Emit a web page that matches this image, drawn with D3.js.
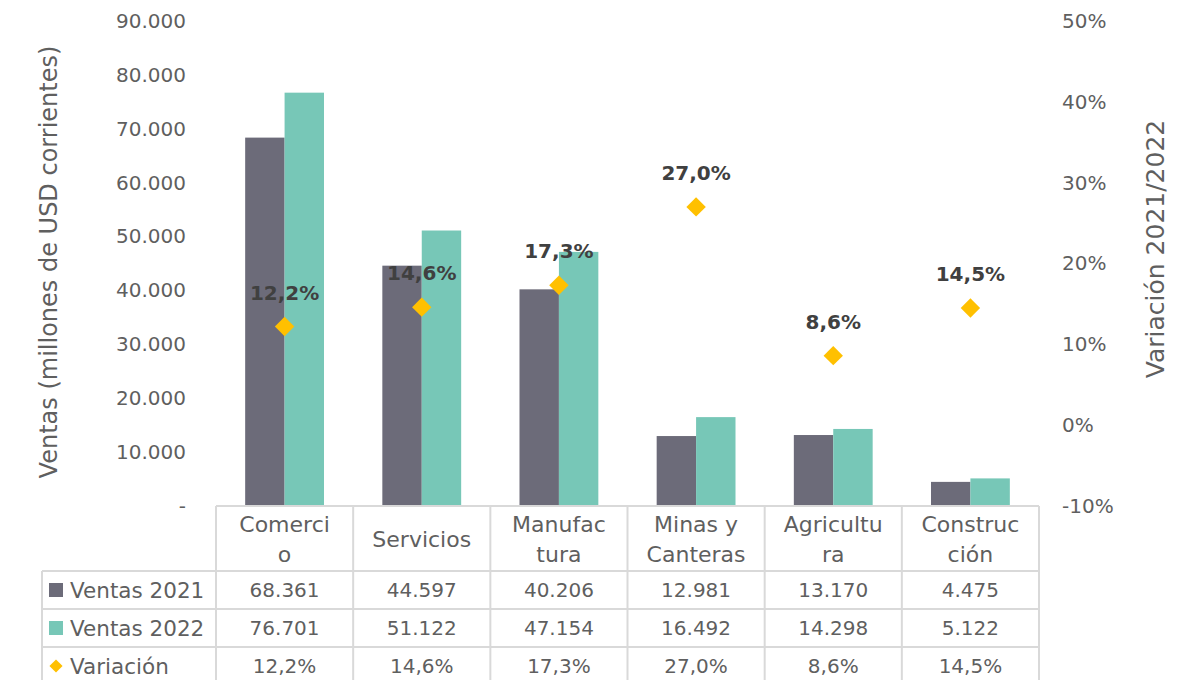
<!DOCTYPE html>
<html>
<head>
<meta charset="utf-8">
<script src="https://cdn.jsdelivr.net/npm/d3@7"></script>
<style>
  body { margin: 0; background: #fff; }
  text { font-family: "DejaVu Sans", sans-serif; fill: #5f5f5f; }
</style>
</head>
<body>
<div id="chart"></div>
<script>
// data
var categories = ["Comercio", "Servicios", "Manufactura", "Minas y Canteras", "Agricultura", "Construcción"];
var categoryLines = [["Comerci", "o"], ["Servicios"], ["Manufac", "tura"], ["Minas y", "Canteras"], ["Agricultu", "ra"], ["Construc", "ción"]];
var ventas2021 = [68361, 44597, 40206, 12981, 13170, 4475];
var ventas2022 = [76701, 51122, 47154, 16492, 14298, 5122];
var variacion = [0.122, 0.146, 0.173, 0.270, 0.086, 0.145];
var leftTicks = [0, 10000, 20000, 30000, 40000, 50000, 60000, 70000, 80000, 90000];
var rightTicks = [-0.1, 0, 0.1, 0.2, 0.3, 0.4, 0.5];
var seriesNames = ["Ventas 2021", "Ventas 2022", "Variación"];

var colors = { v2021: "#6c6b79", v2022: "#77c7b7", varc: "#ffc000", grid: "#d9d9d9" };

var width = 1192, height = 680;
var plot = { left: 216, right: 1039, top: 21, bottom: 506 };

var locale = d3.formatLocale({ decimal: ",", thousands: ".", grouping: [3], currency: ["$", ""], minus: "-" });
var fmtNum = locale.format(",d");
var fmtPct0 = locale.format(".0%");
var fmtPct1 = locale.format(".1%");

var svg = d3.select("#chart").append("svg")
    .attr("width", width)
    .attr("height", height);

var x = d3.scaleBand().domain(categories).range([plot.left, plot.right]).paddingInner(0).paddingOuter(0);
var x1 = d3.scaleBand().domain(["2021", "2022"]).range([0, x.bandwidth()]).paddingInner(0).paddingOuter(0.74);
var y = d3.scaleLinear().domain([0, 90000]).range([plot.bottom, plot.top]);
var y2 = d3.scaleLinear().domain([-0.1, 0.5]).range([plot.bottom, plot.top]);

// left axis
var yAxis = svg.append("g")
    .attr("transform", "translate(" + 190 + ",0)")
    .call(d3.axisLeft(y).tickValues(leftTicks).tickSize(0).tickPadding(4)
        .tickFormat(function(d) { return d === 0 ? "-" : fmtNum(d); }));
yAxis.select(".domain").remove();
yAxis.selectAll("text").style("font-size", "20px").style("font-family", "DejaVu Sans").attr("fill", "#5f5f5f");

// right axis
var y2Axis = svg.append("g")
    .attr("transform", "translate(" + 1058 + ",0)")
    .call(d3.axisRight(y2).tickValues(rightTicks).tickSize(0).tickPadding(4).tickFormat(fmtPct0));
y2Axis.select(".domain").remove();
y2Axis.selectAll("text").style("font-size", "20px").style("font-family", "DejaVu Sans").attr("fill", "#5f5f5f");

// axis titles
svg.append("text")
    .attr("transform", "translate(57,262) rotate(-90)")
    .attr("text-anchor", "middle")
    .style("font-size", "24px")
    .text("Ventas (millones de USD corrientes)");

svg.append("text")
    .attr("transform", "translate(1164,249) rotate(-90)")
    .attr("text-anchor", "middle")
    .style("font-size", "25px")
    .text("Variación 2021/2022");

// bars
var groups = svg.selectAll(".grupo")
    .data(categories)
    .enter().append("g")
    .attr("class", "grupo")
    .attr("transform", function(d) { return "translate(" + x(d) + ",0)"; });

groups.append("rect")
    .attr("x", x1("2021"))
    .attr("width", x1.bandwidth())
    .attr("y", function(d, i) { return y(ventas2021[i]); })
    .attr("height", function(d, i) { return y(0) - y(ventas2021[i]); })
    .attr("fill", colors.v2021);

groups.append("rect")
    .attr("x", x1("2022"))
    .attr("width", x1.bandwidth())
    .attr("y", function(d, i) { return y(ventas2022[i]); })
    .attr("height", function(d, i) { return y(0) - y(ventas2022[i]); })
    .attr("fill", colors.v2022);

// diamonds + labels
var diamond = d3.symbol().type(d3.symbolDiamond2).size(240);
groups.append("path")
    .attr("d", diamond)
    .attr("transform", function(d, i) { return "translate(" + x.bandwidth() / 2 + "," + y2(variacion[i]) + ")"; })
    .attr("fill", colors.varc);

groups.append("text")
    .attr("x", x.bandwidth() / 2)
    .attr("y", function(d, i) { return y2(variacion[i]) - 27; })
    .attr("text-anchor", "middle")
    .style("font-size", "20px")
    .style("font-weight", "bold")
    .style("fill", "#404040")
    .text(function(d, i) { return fmtPct1(variacion[i]); });

// data table
var tableLeft = 42, headerTop = plot.bottom, headerBottom = 571, rowH = 38;
var rowTops = [headerBottom, headerBottom + rowH, headerBottom + 2 * rowH];
var rowsData = [ventas2021.map(fmtNum), ventas2022.map(fmtNum), variacion.map(fmtPct1)];
var grid = svg.append("g").attr("stroke", colors.grid).attr("stroke-width", 2);

grid.append("line").attr("x1", plot.left).attr("x2", plot.right).attr("y1", headerTop).attr("y2", headerTop);
[headerBottom].concat(rowTops.slice(1), [headerBottom + 3 * rowH]).forEach(function(yy) {
    grid.append("line").attr("x1", tableLeft).attr("x2", plot.right).attr("y1", yy).attr("y2", yy);
});
grid.append("line").attr("x1", tableLeft).attr("x2", tableLeft).attr("y1", headerBottom).attr("y2", height);
categories.forEach(function(c) {
    grid.append("line").attr("x1", x(c)).attr("x2", x(c)).attr("y1", headerTop).attr("y2", height);
});
grid.append("line").attr("x1", plot.right).attr("x2", plot.right).attr("y1", headerTop).attr("y2", height);

// header text
categories.forEach(function(c, i) {
    var lines = categoryLines[i];
    var cy = (headerTop + headerBottom) / 2 + 1;
    lines.forEach(function(l, j) {
        svg.append("text")
            .attr("x", x(c) + x.bandwidth() / 2)
            .attr("y", cy + (j - (lines.length - 1) / 2) * 30)
            .attr("dy", "0.35em")
            .attr("text-anchor", "middle")
            .style("font-size", "22px")
            .text(l);
    });
});

// rows
var keyColors = [colors.v2021, colors.v2022, colors.varc];
rowsData.forEach(function(vals, r) {
    var cy = rowTops[r] + rowH / 2;
    if (r < 2) {
        svg.append("rect").attr("x", 49).attr("y", cy - 7).attr("width", 14).attr("height", 14).attr("fill", keyColors[r]);
    } else {
        svg.append("path").attr("d", d3.symbol().type(d3.symbolDiamond2).size(110))
            .attr("transform", "translate(56," + cy + ")").attr("fill", keyColors[r]);
    }
    svg.append("text")
        .attr("x", 70).attr("y", cy).attr("dy", "0.35em")
        .style("font-size", "21.5px")
        .text(seriesNames[r]);
    vals.forEach(function(v, i) {
        svg.append("text")
            .attr("x", x(categories[i]) + x.bandwidth() / 2)
            .attr("y", cy).attr("dy", "0.35em")
            .attr("text-anchor", "middle")
            .style("font-size", "20px")
            .text(v);
    });
});
</script>
</body>
</html>
